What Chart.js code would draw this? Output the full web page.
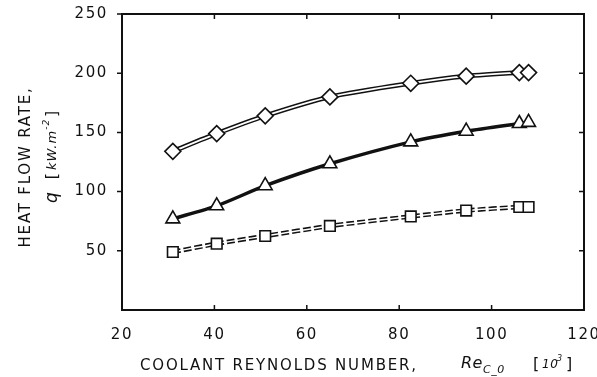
<!DOCTYPE html>
<html>
<head>
<meta charset="utf-8">
<script src="https://cdn.jsdelivr.net/npm/chart.js@4"></script>
<style>
  html, body { margin: 0; padding: 0; background: #fff; }
  #wrap { width: 597px; height: 377px; }
</style>
</head>
<body>
<div id="wrap"><canvas id="heatChart"></canvas></div>
<script>
// Coolant Reynolds number [10^3]
const reynolds = [31, 40.5, 51, 65, 82.5, 94.5, 106, 108];
// Heat flow rate q [kW/m^2]
const diamondQ = [134, 149, 164, 180, 191.5, 197.5, 200.5, 200.5];
const triangleQ = [77, 88, 105, 123.5, 142, 151, 157.5, 158.5];
const squareQ = [49, 56, 62.5, 71, 79, 84, 87, 87];

const xTicks = [20, 40, 60, 80, 100, 120];
const yTicks = [50, 100, 150, 200, 250];

const FONT = '"DejaVu Sans", sans-serif';

const pts = (ys) => reynolds.map((x, i) => ({ x, y: ys[i] }));

// wide lettering like the original, also picked up by the tick labels
const spacing = {
  id: 'spacing',
  beforeDraw(chart) { chart.ctx.letterSpacing = '1.6px'; }
};

// frame, inward/outward ticks and axis titles
const decorations = {
  id: 'decorations',
  afterDraw(chart) {
    const { ctx, chartArea: a } = chart;
    const xs = chart.scales.x, ys = chart.scales.y;
    ctx.save();
    ctx.strokeStyle = '#111';
    ctx.lineWidth = 2;
    ctx.strokeRect(a.left, a.top, a.right - a.left, a.bottom - a.top);

    ctx.lineWidth = 1.5;
    ctx.beginPath();
    [40, 60, 80, 100].forEach(v => {
      const px = xs.getPixelForValue(v);
      ctx.moveTo(px, a.top); ctx.lineTo(px, a.top + 5);
      ctx.moveTo(px, a.bottom); ctx.lineTo(px, a.bottom - 5);
    });
    yTicks.forEach(v => {
      const py = ys.getPixelForValue(v);
      ctx.moveTo(a.left, py); ctx.lineTo(a.left - 5, py);
      if (v < 250) { ctx.moveTo(a.right, py); ctx.lineTo(a.right - 5, py); }
    });
    ctx.stroke();

    ctx.fillStyle = '#111';
    ctx.textBaseline = 'alphabetic';
    ctx.letterSpacing = '1.8px';

    // y title, two rotated lines
    ctx.save();
    ctx.translate(30, 167);
    ctx.rotate(-Math.PI / 2);
    ctx.font = '15px ' + FONT;
    ctx.textAlign = 'center';
    ctx.fillText('HEAT FLOW RATE,', 0, 0);
    ctx.restore();

    ctx.save();
    ctx.translate(57, 203);
    ctx.rotate(-Math.PI / 2);
    ctx.textAlign = 'left';
    ctx.letterSpacing = '1px';
    let x = 0;
    ctx.font = 'italic 17px ' + FONT;
    ctx.fillText('q', x, 0); x += ctx.measureText('q').width + 12;
    ctx.font = '16px ' + FONT;
    ctx.fillText('[', x, 0); x += ctx.measureText('[').width + 2;
    ctx.font = 'italic 13px ' + FONT;
    ctx.fillText('kW.m', x, -1); x += ctx.measureText('kW.m').width;
    ctx.font = 'italic 9px ' + FONT;
    ctx.fillText('-2', x, -8); x += ctx.measureText('-2').width + 2;
    ctx.font = '16px ' + FONT;
    ctx.fillText(']', x, 0);
    ctx.restore();

    // x title
    ctx.textAlign = 'left';
    ctx.font = '15px ' + FONT;
    ctx.fillText('COOLANT REYNOLDS NUMBER,', 140, 370);
    ctx.letterSpacing = '0.5px';
    ctx.font = 'italic 16px ' + FONT;
    ctx.fillText('Re', 461, 368);
    x = 461 + ctx.measureText('Re').width;
    ctx.font = 'italic 11px ' + FONT;
    ctx.fillText('C_0', x, 373);
    ctx.font = '16px ' + FONT;
    ctx.fillText('[', 533, 369);
    ctx.font = 'italic 12px ' + FONT;
    ctx.fillText('10', 542, 368);
    ctx.font = 'italic 8px ' + FONT;
    ctx.fillText('3', 557, 361);
    ctx.font = '16px ' + FONT;
    ctx.fillText(']', 566, 369);
    ctx.restore();
  }
};

const ctx = document.getElementById('heatChart').getContext('2d');
new Chart(ctx, {
  type: 'line',
  data: {
    datasets: [
      // inner white strokes carry the markers, drawn on top
      {
        data: pts(diamondQ), order: 0, borderColor: '#fff', borderWidth: 1.8,
        tension: 0.25, pointStyle: 'rectRot', pointRadius: 8,
        pointBackgroundColor: '#fff', pointBorderColor: '#111', pointBorderWidth: 1.6
      },
      {
        data: pts(triangleQ), order: 0, borderColor: '#111', borderWidth: 3.5,
        tension: 0.25, pointStyle: 'triangle', pointRadius: 8,
        pointBackgroundColor: '#fff', pointBorderColor: '#111', pointBorderWidth: 1.6
      },
      {
        data: pts(squareQ), order: 0, borderColor: '#fff', borderWidth: 1.5,
        tension: 0.25, pointStyle: 'rect', pointRadius: 7.5,
        pointBackgroundColor: '#fff', pointBorderColor: '#111', pointBorderWidth: 1.6
      },
      // outer black strokes for the double lines
      {
        data: pts(diamondQ), order: 1, borderColor: '#111', borderWidth: 4.8,
        tension: 0.25, pointRadius: 0
      },
      {
        data: pts(squareQ), order: 1, borderColor: '#111', borderWidth: 4.5,
        borderDash: [8, 3], tension: 0.25, pointRadius: 0
      }
    ]
  },
  options: {
    responsive: true,
    maintainAspectRatio: false,
    animation: false,
    layout: { padding: { top: 14, right: 13, left: 0, bottom: 0 } },
    plugins: { legend: { display: false }, tooltip: { enabled: false } },
    scales: {
      x: {
        type: 'linear', min: 20, max: 120,
        afterFit: (s) => { s.height = 67; s.paddingLeft = 0; s.paddingRight = 0; },
        afterBuildTicks: (s) => { s.ticks = xTicks.map(v => ({ value: v })); },
        grid: { display: false }, border: { display: false },
        ticks: { padding: 8, color: '#111', font: { family: FONT, size: 15 } }
      },
      y: {
        type: 'linear', min: 0, max: 250,
        afterFit: (s) => { s.width = 122; s.paddingTop = 0; s.paddingBottom = 0; },
        afterBuildTicks: (s) => { s.ticks = yTicks.map(v => ({ value: v })); },
        grid: { display: false }, border: { display: false },
        ticks: { padding: 6, color: '#111', font: { family: FONT, size: 15 } }
      }
    }
  },
  plugins: [spacing, decorations]
});
</script>
</body>
</html>
